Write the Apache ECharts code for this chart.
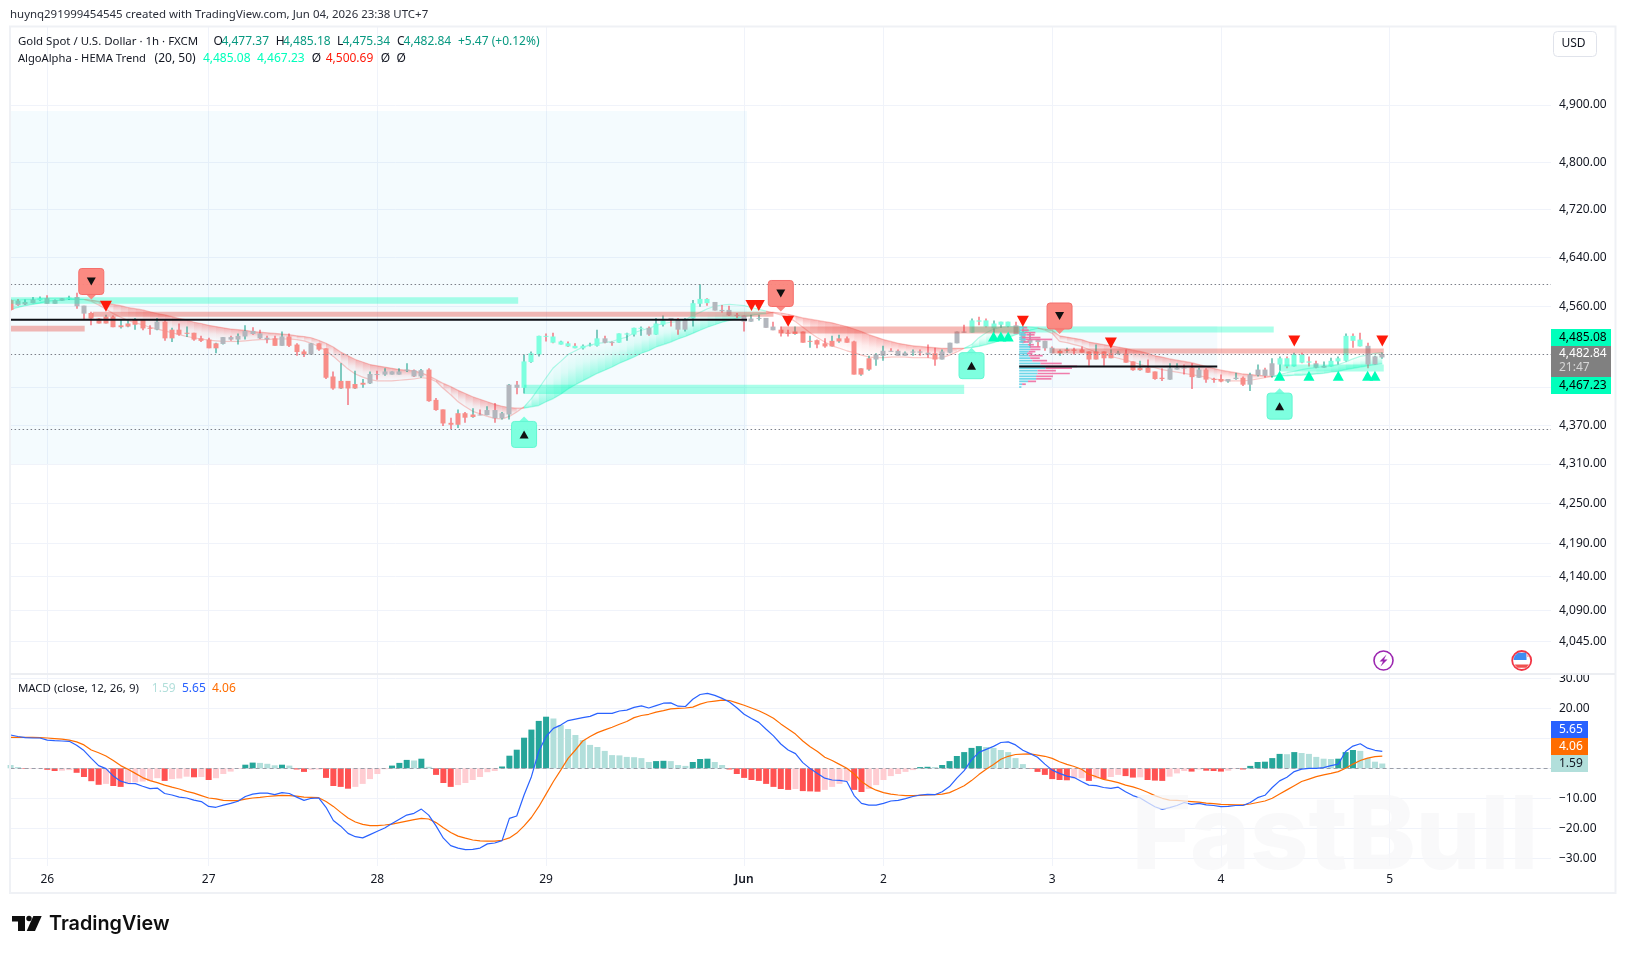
<!DOCTYPE html>
<html>
<head>
<meta charset="utf-8">
<title>Gold Spot / U.S. Dollar</title>
<script src="https://cdn.jsdelivr.net/npm/echarts@6/dist/echarts.min.js"></script>
<style>
html,body{margin:0;padding:0;background:#fff}
#chart{width:1626px;height:954px}
</style>
</head>
<body>
<div id="chart"></div>
<script>
// Hourly candles, indexed from the first visible bar
const opens = [
4570,4569,4563,4565,4570,4573,4564,4569,4572,4575,
4561,4549,4540,4532,4543,4526,4527,4530,4538,4525,
4522,4535,4508,4522,4516,4517,4508,4506,4492,4499,
4510,4506,4511,4520,4516,4509,4508,4496,4511,4498,
4487,4482,4500,4492,4447,4428,4440,4428,4434,4436,
4451,4450,4450,4450,4456,4457,4447,4458,4410,4395,
4374,4371,4389,4383,4387,4386,4394,4381,4387,4434,
4429,4470,4482,4512,4511,4498,4500,4496,4492,4497,
4496,4508,4502,4501,4514,4514,4524,4525,4514,4530,
4541,4538,4522,4540,4564,4572,4567,4554,4554,4546,
4545,4535,4540,4541,4527,4522,4517,4515,4519,4503,
4505,4500,4495,4503,4508,4503,4450,4458,4474,4480,
4488,4488,4480,4485,4487,4485,4484,4474,4485,4500,
4519,4517,4537,4537,4524,4530,4527,4529,4517,4501,
4506,4504,4493,4484,4488,4490,4490,4487,4474,4487,
4476,4483,4484,4471,4457,4461,4455,4445,4442,4458,
4461,4461,4445,4458,4443,4443,4439,4443,4445,4434,
4449,4458,4448,4466,4476,4463,4482,4471,4468,4461,
4463,4471,4472,4512,4506,4496,4466,4477.37];
const closes = [
4554,4562,4567,4571,4573,4564,4570,4573,4574,4560,
4548,4540,4532,4543,4526,4529,4532,4539,4524,4524,
4535,4508,4522,4514,4517,4506,4504,4492,4500,4510,
4506,4512,4520,4515,4508,4506,4496,4511,4496,4486,
4482,4500,4490,4445,4428,4440,4428,4435,4437,4451,
4450,4455,4455,4455,4458,4447,4457,4408,4394,4373,
4371,4389,4382,4387,4386,4394,4381,4389,4434,4429,
4471,4484,4512,4511,4501,4503,4495,4492,4496,4498,
4508,4501,4501,4516,4516,4525,4525,4514,4532,4537,
4538,4522,4538,4565,4572,4565,4553,4552,4545,4544,
4535,4540,4541,4525,4521,4516,4516,4519,4501,4504,
4498,4495,4504,4508,4501,4450,4460,4476,4482,4488,
4487,4480,4485,4487,4485,4482,4474,4487,4501,4519,
4517,4537,4535,4527,4532,4535,4535,4515,4501,4506,
4502,4492,4484,4488,4490,4488,4485,4474,4487,4476,
4484,4485,4469,4457,4461,4453,4443,4443,4460,4461,
4460,4446,4458,4442,4442,4439,4443,4445,4434,4450,
4458,4448,4468,4476,4463,4482,4469,4469,4461,4464,
4472,4476,4512,4504,4495,4466,4479,4482.84];
const lows = [
4553,4561,4562,4565,4569,4564,4564,4569,4570,4556,
4539,4529,4532,4532,4526,4524,4526,4522,4521,4514,
4521,4504,4502,4512,4510,4504,4502,4492,4484,4498,
4504,4498,4506,4514,4507,4500,4496,4496,4494,4480,
4478,4482,4488,4443,4426,4427,4402,4427,4429,4435,
4442,4448,4450,4450,4454,4446,4445,4407,4393,4369,
4364.5,4366,4374,4382,4386,4386,4374,4379,4379,4419,
4420,4469,4479,4503,4500,4498,4494,4492,4490,4495,
4495,4500,4496,4501,4504,4511,4512,4512,4514,4527,
4527,4514,4519,4527,4559,4561,4553,4550,4544,4541,
4519,4535,4537,4525,4521,4511,4511,4514,4501,4493,
4492,4493,4495,4501,4501,4450,4448,4456,4464,4472,
4487,4480,4480,4480,4480,4477,4464,4474,4484,4500,
4517,4517,4529,4526,4517,4525,4526,4515,4500,4493,
4494,4488,4484,4480,4485,4482,4485,4464,4474,4464,
4476,4482,4469,4456,4456,4453,4442,4440,4442,4458,
4450,4427,4445,4437,4437,4438,4437,4442,4432,4424,
4447,4445,4445,4456,4460,4463,4468,4463,4460,4461,
4463,4466,4471,4493,4495,4460,4466,4475.34];
const highs = [
4571,4572,4571,4575,4576,4578,4571,4573,4577,4582,
4561,4551,4541,4546,4545,4538,4537,4541,4538,4529,
4541,4538,4525,4532,4527,4517,4512,4509,4501,4510,
4512,4516,4529,4526,4522,4512,4512,4519,4516,4500,
4490,4500,4500,4492,4455,4468,4440,4456,4443,4455,
4456,4460,4455,4460,4468,4458,4459,4460,4413,4395,
4382,4395,4391,4397,4395,4400,4405,4391,4435,4440,
4482,4487,4512,4516,4517,4504,4503,4500,4498,4501,
4522,4512,4503,4516,4517,4525,4527,4527,4541,4545,
4541,4541,4541,4570,4596,4573,4567,4562,4561,4549,
4545,4546,4546,4541,4535,4527,4522,4527,4519,4512,
4506,4508,4512,4514,4511,4504,4460,4480,4484,4496,
4492,4490,4487,4490,4490,4498,4493,4490,4501,4519,
4530,4540,4543,4540,4537,4535,4535,4535,4527,4517,
4507,4504,4495,4490,4493,4493,4495,4487,4498,4487,
4490,4488,4490,4471,4472,4474,4455,4460,4468,4468,
4466,4468,4461,4460,4445,4450,4443,4453,4447,4453,
4466,4461,4476,4479,4479,4485,4485,4479,4472,4471,
4477,4479,4516,4516,4517,4501,4480,4485.18];
// Body tint per bar: s = bearish trend, m = bullish trend, g = undecided
const bodyTones = ('s ggg m ggg m gg sssssssss g ssssssss ggggggg s g sss g sssssss gggggggg ' +
  'sssssss gggggg mmmmmmmmmmm gg mmmm g mm ggg mmm ggggggggg sssssssssssss gggggggg s gggg ' +
  'mmmmmm gggggg ssssssss g ssssss ggg s g sss gg s gggg mmmmm gg mmmmm ggg').replace(/ /g, '').split('');

// HEMA Trend averages
const hemaFast = [
4570,4570,4571,4571,4572,4573,4573,4573,4573,4572,
4571,4568,4562,4555,4548,4542,4537,4533,4530,4526,
4523,4520,4517,4514,4511,4509,4507,4505,4504,4503,
4503,4503,4504,4505,4506,4506,4507,4507,4507,4506,
4504,4500,4495,4488,4479,4469,4459,4451,4446,4442,
4440,4440,4440,4441,4442,4443,4445,4444,4439,4428,
4418,4407,4399,4392,4388,4384,4381,4380,4384,4391,
4399,4412,4428,4445,4461,4471,4482,4488,4494,4497,
4500,4501,4503,4507,4510,4517,4521,4524,4529,4532,
4534,4535,4538,4545,4550,4556,4560,4562,4563,4562,
4561,4558,4555,4552,4549,4546,4542,4535,4526,4517,
4509,4502,4496,4492,4488,4485,4481,4478,4477,4477,
4478,4478,4478,4477,4477,4477,4476,4477,4481,4486,
4492,4498,4509,4517,4523,4526,4527,4527,4527,4526,
4525,4521,4516,4503,4501,4498,4495,4490,4486,4482,
4479,4476,4473,4470,4466,4463,4461,4458,4456,4454,
4452,4450,4448,4446,4443,4442,4440,4440,4440,4441,
4443,4445,4447,4450,4453,4455,4458,4460,4461,4463,
4464,4466,4470,4475,4479,4481,4484,4485.08];
const hemaSlow = [
4555,4558,4561,4563,4565,4568,4569,4570,4571,4571,
4571,4570,4568,4566,4563,4561,4558,4556,4554,4551,
4548,4546,4543,4540,4538,4534,4532,4529,4527,4525,
4523,4522,4521,4519,4518,4517,4516,4515,4514,4512,
4511,4509,4505,4500,4494,4486,4480,4474,4470,4466,
4464,4462,4460,4458,4457,4456,4453,4448,4442,4436,
4431,4425,4420,4415,4411,4407,4403,4400,4398,4397,
4397,4399,4401,4407,4412,4419,4427,4434,4440,4446,
4452,4457,4462,4468,4473,4478,4484,4488,4494,4498,
4502,4507,4511,4516,4521,4526,4530,4534,4537,4540,
4543,4545,4547,4548,4550,4549,4547,4544,4541,4539,
4537,4535,4533,4530,4527,4523,4519,4514,4510,4506,
4503,4500,4498,4496,4495,4494,4493,4492,4492,4492,
4492,4493,4495,4498,4501,4505,4509,4514,4517,4521,
4524,4523,4521,4512,4510,4508,4506,4502,4500,4498,
4496,4494,4492,4489,4487,4484,4480,4478,4475,4473,
4471,4469,4466,4463,4460,4457,4455,4453,4451,4450,
4449,4448,4447,4448,4448,4449,4449,4450,4451,4452,
4454,4455,4458,4460,4462,4464,4466,4467.23];

// MACD (close, 12, 26, 9)
const macdHist = [
1.1,.4,-.2,-.2,-.1,-.5,-.9,-.8,-.6,-1.5,
-2.9,-4.3,-5.5,-5.2,-5.9,-6.2,-5.3,-4.7,-4.4,-4.2,
-3.3,-4.2,-3.6,-3.4,-2.8,-3,-2.9,-3.9,-3.3,-1.9,
-1.1,-.2,1.2,1.9,1.8,1.5,1,1.2,.9,-.4,
-1.2,-.5,-.4,-3.2,-5.9,-6.2,-6.8,-6.2,-5.2,-3.6,
-1.9,-.3,.9,1.8,2.8,2.6,3.2,.5,-2.2,-4.9,
-6.2,-5.6,-4.9,-3.9,-2.9,-1.3,-.9,.6,4.2,6.2,
10.2,12.9,15.8,17.2,16.6,14.4,13.1,11.1,9.4,7.8,
7.1,5.8,4.4,4.3,3.8,3.7,3.4,2.1,2.4,2.5,
2.4,1.1,.8,2.1,3.1,3.2,2.1,1.1,-.4,-1.9,
-3.2,-3.9,-4.2,-5.2,-6.2,-6.9,-7.2,-6.9,-7.6,-7.7,
-7.8,-7.2,-6.2,-5.2,-4.2,-7.2,-7.9,-6.9,-5.6,-3.9,
-2.6,-1.9,-1.2,-.6,.4,.5,.4,1.1,2.4,4.1,
5.4,6.8,7.4,7.1,6.8,6.1,5.4,3.4,1.4,-.2,
-1.2,-2.2,-3.6,-3.9,-4,-3.4,-3.3,-4.2,-3.4,-3.6,
-2.9,-2.2,-2.6,-3.1,-3,-3.9,-4.1,-4.2,-2.8,-1.7,
-.9,-1.1,-.4,-.8,-.9,-1.1,-.8,-.2,-.4,.8,
2.1,2.2,3.4,4.8,4.7,5.4,5.1,4.8,3.8,3.2,
3.1,3.2,5.4,6.1,5.8,3.4,2.2,1.59];
const macdLine = [
11.1,10.6,10.2,10.1,10.1,9.4,9.2,9.1,9,7.7,
5.9,3.3,.9,-.1,-2.6,-4.3,-5,-5.1,-6,-6.8,
-6.6,-8.4,-8.9,-9.6,-9.9,-10.6,-11.1,-12.7,-13,-12.3,
-11.7,-11,-9.4,-8.6,-8.3,-8.3,-8.8,-8.1,-8.4,-9.6,
-10.7,-10,-9.9,-13,-17.4,-19.3,-21.7,-22.8,-23.2,-22.1,
-21,-19.9,-18.4,-17,-15.6,-15,-13.6,-15.6,-19.2,-23.3,
-25.8,-26.6,-27.1,-27,-26.6,-25.2,-24.9,-24.1,-16.7,-15.9,
-8.9,-2.8,5.6,10.6,13.3,14.4,15.9,16.4,16.9,17.3,
18.3,18.3,18.3,19.1,19.4,20.3,20.8,20.1,20.9,21.7,
21.8,20.7,20.6,23,24.6,25,24.3,23.3,22.1,20.2,
18,16.6,15.3,13,10.8,8.1,6.1,4.9,1.9,-.1,
-1.7,-3.3,-3.9,-4,-4.4,-9.1,-11.7,-12.3,-12.3,-11.7,
-10.9,-10.7,-10.1,-9.4,-8.9,-8.7,-8.8,-7.8,-6.1,-3.3,
-.8,2.8,5.3,6.3,7.3,8.6,8.8,7.8,6,4.9,
3.7,1.4,-.6,-1.7,-2.6,-3.1,-4.4,-5.6,-5.8,-6.4,
-6.7,-6.3,-7.8,-9.1,-9.9,-11.4,-12.8,-13.7,-13.1,-12.4,
-11.4,-12,-11.7,-12.2,-12.4,-12.8,-12.7,-12.4,-12.4,-11.4,
-9.8,-9,-6.4,-4.2,-3,-1.1,-.3,0,0,.2,
.9,1.4,5.6,7.4,8.2,6.7,6,5.65];
const signalLine = [
10.3,10.3,10.3,10.3,10.2,10.1,9.9,9.7,9.4,8.8,
7.8,6.1,5.2,4.1,2.6,.9,-.3,-1.7,-3.1,-4.1,
-4.8,-5.6,-6.3,-6.9,-7.7,-8.3,-9.1,-9.9,-10.2,-10.7,
-10.8,-10.8,-10.3,-9.9,-9.7,-9.4,-9.2,-9,-9.1,-9.3,
-9.6,-9.7,-9.8,-11.1,-12.7,-14.7,-16.6,-17.9,-18.7,-19.1,
-19.1,-18.9,-18.6,-18.1,-17.6,-17.1,-16.7,-16.9,-18.1,-19.8,
-21.4,-22.6,-23.3,-23.9,-24.2,-24.3,-24.3,-24,-23.2,-21.6,
-19.2,-16.4,-12.8,-8.6,-4.4,-.6,3.3,6.1,9.1,10.6,
11.9,12.8,13.7,14.7,15.6,16.9,17.6,18,18.7,19.2,
19.8,20,20.1,20.4,21.4,22.1,22.4,22.7,22.6,21.8,
21,20.1,19.2,18,16.7,14.8,13.1,11.4,9.1,7.2,
5.6,3.7,2.6,1.3,0,-1.9,-4.4,-6.1,-7.3,-8.1,
-8.6,-8.9,-9.1,-9.1,-9,-8.9,-8.8,-8.6,-8.1,-7,
-5.8,-4.1,-2.1,-.3,1.3,3,4,4.6,4.7,4.8,
4.4,4,3.3,2.2,1.3,.6,-.3,-2,-2.8,-3.7,
-4.2,-4.8,-5.6,-6.2,-7,-8,-9.1,-10,-10.6,-10.7,
-10.9,-11.1,-11.3,-11.6,-11.8,-12,-12.1,-12.2,-12.2,-11.9,
-11.4,-10.9,-10,-8.6,-7.2,-5.8,-4.4,-3.6,-2.8,-2.2,
-1.7,-1.1,0,1.4,2.6,3.4,3.9,4.06];

// Session ticks along the time scale
const dayTickIndex = [5, 27, 50, 73, 100, 119, 142, 165, 188];
const dayTickLabels = ['26', '27', '28', '29', 'Jun', '2', '3', '4', '5'];
const slotCount = 211;

// Axis ticks; 4,430 and 10 keep their grid line but sit under the value flags
const priceGrid = [4900, 4800, 4720, 4640, 4560, 4430, 4370, 4310, 4250, 4190, 4140, 4090, 4045];
const priceLabels = [4900, 4800, 4720, 4640, 4560, 4370, 4310, 4250, 4190, 4140, 4090, 4045];
const macdGrid = [30, 20, 10, 0, -10, -20, -30];
const macdLabels = [30, 20, -10, -20, -30];

// Reference levels drawn dotted: session high, last price, session low
const priceLevels = [4596, 4482.84, 4364.5];

// Fixed-range profile windows: from bar, to bar, top price, bottom price
const rangeFrom = [-0.1, 137.5];
const rangeTo = [100.4, 164.5];
const rangeTop = [4889.5, 4528];
const rangeBottom = [4310, 4430];
const pocPrice = [4538.2, 4463];

// Trend zones: from bar, to bar, top price, bottom price
const bullZoneFrom = [-0.1, 70, 131, 173];
const bullZoneTo = [69.2, 130, 172.2, 187.2];
const bullZoneTop = [4574.5, 4434, 4527, 4466];
const bullZoneBottom = [4564, 4419.4, 4517.3, 4455];
const bearZoneFrom = [-0.1, 11.2, 105, 142];
const bearZoneTo = [10.1, 104, 137.6, 187.2];
const bearZoneTop = [4528.5, 4551, 4527, 4491.6];
const bearZoneBottom = [4519, 4543, 4516, 4483.6];

// Volume profile rows: price, buy length and total length in bar steps
const profilePrice = [4525,4521,4517,4513.5,4509,4506,4502,4497.5,4494,4490,4486.5,4483.6,4480,4476,4472,4467.5,4463,4460,4456,4451.5,4447,4443,4439,4434.5,4430];
const profileBuy = [.6,.3,.7,1,.4,.9,.6,1.2,1.5,1.5,1.3,1.1,1.3,1.5,1.8,2.9,3.6,3.6,2.5,2.5,2.3,2.3,1.2,.4,.3];
const profileTotal = [1.1,1.3,2.2,2.1,2.9,4.5,1.3,2,2.9,2.9,2.2,1.8,3.2,2.8,3.8,5.8,7.9,7.2,5,6.9,4.6,4.4,2.3,.9,.3];

// Signals
const sellBars = [13, 101, 102, 106, 138, 150, 175, 187];
const sellPrices = [4560, 4561.4, 4561.4, 4535.7, 4535.7, 4500.4, 4503.6, 4503.6];
const buyBars = [134, 135, 136, 173, 177, 181, 185, 186];
const buyPrices = [4511, 4511, 4511, 4448, 4448, 4448, 4448, 4448];
const sellTagBars = [11, 105, 143];
const sellTagPrices = [4571, 4551.5, 4515];
const buyTagBars = [70, 131, 173];
const buyTagPrices = [4384, 4493, 4428.5];

// Header values
const quote = { o: '4,477.37', h: '4,485.18', l: '4,475.34', c: '4,482.84', change: '+5.47 (+0.12%)' };
const hemaLegend = { fast: '4,485.08', slow: '4,467.23', bear: '4,500.69' };
const macdLegend = { hist: '1.59', macd: '5.65', signal: '4.06' };

const UI_FONT = '"Noto Sans", sans-serif';
const INK = '#131722';
const GRID_LINE = '#f0f3fa';
const WICK_UP = '#089981', WICK_DOWN = '#f23645';
const BODY = { s: '#f88d88', m: '#7dffdf', g: '#b3b6bd' };
const MINT = '#00ffbb';

const plot = { left: 10.6, right: 1551, top: 27, bottom: 673, macdTop: 675, macdBottom: 866 };
const categories = Array.from({ length: slotCount }, (_, i) => {
  const k = dayTickIndex.indexOf(i);
  return k >= 0 ? dayTickLabels[k] : String(i);
});
const onDayTick = i => dayTickIndex.indexOf(i) >= 0;
const barsIndex = opens.map((_, i) => i);
const money = v => v.toLocaleString('en-US', { minimumFractionDigits: 2, maximumFractionDigits: 2 });

// Category coordinates are rounded by the scale, so fractional bars step from bar 0
function barX(api, bar, price) {
  const x0 = api.coord([0, price])[0];
  const x1 = api.coord([1, price])[0];
  return x0 + bar * (x1 - x0);
}

function rectSeries(name, from, to, top, bottom, fill, z) {
  return {
    name, type: 'custom', z, silent: true, clip: true, xAxisIndex: 0, yAxisIndex: 0,
    data: from.map((_, k) => [k]),
    encode: { x: [], y: [] },
    renderItem(_, api) {
      const k = api.value(0);
      const xa = barX(api, from[k], top[k]), xb = barX(api, to[k], top[k]);
      const ya = api.coord([0, top[k]])[1], yb = api.coord([0, bottom[k]])[1];
      return { type: 'rect', shape: { x: xa, y: ya, width: xb - xa, height: yb - ya }, style: { fill } };
    }
  };
}

function renderCandle(_, api) {
  const i = api.value(0);
  const o = opens[i], c = closes[i];
  const x = Math.round(api.coord([i, c])[0]);
  const yHigh = api.coord([i, highs[i]])[1], yLow = api.coord([i, lows[i]])[1];
  const yTop = api.coord([i, Math.max(o, c)])[1], yBot = api.coord([i, Math.min(o, c)])[1];
  return {
    type: 'group',
    children: [
      { type: 'rect', shape: { x: x - 0.5, y: yHigh, width: 1, height: yLow - yHigh },
        style: { fill: c >= o ? WICK_UP : WICK_DOWN } },
      { type: 'rect', shape: { x: x - 2.5, y: yTop, width: 5, height: Math.max(1, yBot - yTop) },
        style: { fill: BODY[bodyTones[i]] } }
    ]
  };
}

function renderHemaColumn(_, api) {
  const i = api.value(0);
  if (i >= hemaFast.length - 1) return null;
  const bear = hemaFast[i] < hemaSlow[i] || hemaFast[i + 1] < hemaSlow[i + 1];
  const pt = (bar, p) => api.coord([bar, p]);
  const f0 = pt(i, hemaFast[i]), f1 = pt(i + 1, hemaFast[i + 1]);
  const s0 = pt(i, hemaSlow[i]), s1 = pt(i + 1, hemaSlow[i + 1]);
  const rgb = bear ? '242,70,70' : '0,250,185';
  const strong = `rgba(${rgb},0.42)`, mid = `rgba(${rgb},0.1)`, none = `rgba(${rgb},0)`;
  const fill = new echarts.graphic.LinearGradient(0, 0, 0, 1, bear
    ? [{ offset: 0, color: strong }, { offset: 0.55, color: mid }, { offset: 1, color: none }]
    : [{ offset: 0, color: none }, { offset: 0.45, color: mid }, { offset: 1, color: strong }]);
  const edge = bear ? 'rgba(240,100,95,0.36)' : 'rgba(0,240,175,0.3)';
  return {
    type: 'group',
    children: [
      { type: 'polygon', shape: { points: [s0, s1, f1, f0] }, style: { fill } },
      { type: 'line', shape: { x1: f0[0], y1: f0[1], x2: f1[0], y2: f1[1] }, style: { stroke: edge, lineWidth: 1.2 } },
      { type: 'line', shape: { x1: s0[0], y1: s0[1], x2: s1[0], y2: s1[1] }, style: { stroke: edge, lineWidth: 1.2 } }
    ]
  };
}

function renderPoc(_, api) {
  const k = api.value(0);
  const xa = barX(api, rangeFrom[k], pocPrice[k]), xb = barX(api, rangeTo[k], pocPrice[k]);
  const y = api.coord([0, pocPrice[k]])[1];
  return { type: 'rect', shape: { x: xa, y: y - 1, width: xb - xa, height: 2 }, style: { fill: '#0c0e14' } };
}

function renderProfileRow(_, api) {
  const k = api.value(0);
  const start = rangeFrom[1];
  const y = api.coord([0, profilePrice[k]])[1];
  const xa = barX(api, start, profilePrice[k]);
  const xb = barX(api, start + profileBuy[k], profilePrice[k]);
  const xc = barX(api, start + profileTotal[k], profilePrice[k]);
  return {
    type: 'group',
    children: [
      { type: 'rect', shape: { x: xa, y: y - 1, width: xb - xa, height: 1.7 }, style: { fill: '#5fd1e6', opacity: 0.9 } },
      { type: 'rect', shape: { x: xb, y: y - 1, width: Math.max(0, xc - xb), height: 1.7 }, style: { fill: '#ef6ea2', opacity: 0.9 } }
    ]
  };
}

function tagSeries(name, bars, prices, down) {
  const fill = down ? 'rgba(251,134,126,0.97)' : 'rgba(122,255,222,0.97)';
  const line = down ? '#f56f6c' : '#62f7d2';
  return {
    name, type: 'custom', z: 12, silent: true, clip: false, xAxisIndex: 0, yAxisIndex: 0,
    data: bars.map((_, k) => [k]),
    encode: { x: [], y: [] },
    renderItem(_, api) {
      const k = api.value(0);
      const [x, tip] = api.coord([bars[k], prices[k]]);
      const dir = down ? -1 : 1;
      const near = tip + dir * 5;
      const far = near + dir * 26;
      const mid = (near + far) / 2;
      return {
        type: 'group',
        children: [
          { type: 'polygon', shape: { points: [[x - 6, near + dir], [x, tip], [x + 6, near + dir]] }, style: { fill } },
          { type: 'rect', shape: { x: x - 12.5, y: Math.min(near, far), width: 25, height: 26, r: 3 },
            style: { fill, stroke: line, lineWidth: 1 } },
          { type: 'polygon', shape: { points: [[x - 4.5, mid + dir * 4], [x + 4.5, mid + dir * 4], [x, mid - dir * 4]] },
            style: { fill: '#111' } }
        ]
      };
    }
  };
}

function label(x, y, text, fill, extra) {
  return {
    type: 'text', x, y, z: 30, silent: true,
    style: Object.assign({ text, fill, font: `12px ${UI_FONT}`, verticalAlign: 'middle' }, extra || {})
  };
}
function box(x, y, w, h, fill, extra) {
  return { type: 'rect', z: 28, silent: true, shape: Object.assign({ x, y, width: w, height: h }, extra || {}), style: { fill } };
}
function poly(points, fill) {
  return { type: 'polygon', z: 31, silent: true, shape: { points }, style: { fill } };
}

const TEAL = '#089981';
const NARROW = { font: `11.45px ${UI_FONT}` };
const graphicItems = [
  // frame and pane separator
  { type: 'rect', z: 20, silent: true, shape: { x: 10, y: 26.5, width: 1605.5, height: 866.5 }, style: { fill: 'none', stroke: '#eff1f5', lineWidth: 2 } },
  box(10, 673, 1605, 2, '#eceef2'),
  // caption
  label(10, 15, 'huynq291999454545 created with TradingView.com, Jun 04, 2026 23:38 UTC+7', '#2a2e39', NARROW),
  // main legend
  label(17.9, 41.5, 'Gold Spot / U.S. Dollar · 1h · FXCM', INK, NARROW),
  label(213.5, 41.5, 'O', INK), label(221.4, 41.5, quote.o, TEAL),
  label(275.7, 41.5, 'H', INK), label(283, 41.5, quote.h, TEAL),
  label(337, 41.5, 'L', INK), label(342.5, 41.5, quote.l, TEAL),
  label(397, 41.5, 'C', INK), label(403.6, 41.5, quote.c, TEAL),
  label(457.9, 41.5, quote.change, TEAL),
  label(17.9, 59, 'AlgoAlpha - HEMA Trend', INK, { font: `11.2px ${UI_FONT}` }),
  label(154.6, 59, '(20, 50)', INK),
  label(202.9, 59, hemaLegend.fast, MINT), label(257, 59, hemaLegend.slow, MINT),
  label(311.8, 59, 'Ø', INK), label(325.7, 59, hemaLegend.bear, '#ff1a0a'),
  label(380.7, 59, 'Ø', INK), label(396.4, 59, 'Ø', INK),
  // MACD legend
  label(17.9, 689, 'MACD (close, 12, 26, 9)', INK, NARROW),
  label(151.8, 689, macdLegend.hist, '#b2dfdb'),
  label(182, 689, macdLegend.macd, '#2962ff'),
  label(212, 689, macdLegend.signal, '#ff6d00'),
  // currency button
  { type: 'rect', z: 28, silent: true, shape: { x: 1553.5, y: 31.5, width: 43, height: 25, r: 4 }, style: { fill: '#fff', stroke: '#e0e3eb', lineWidth: 1 } },
  label(1573.5, 44, 'USD', INK, { align: 'center' }),
  // price flags
  box(1551, 329, 60, 17, MINT), label(1559, 337.5, hemaLegend.fast, '#000'),
  box(1551, 346, 60, 31, '#808080'), label(1559, 354, quote.c, '#fff'), label(1559, 368, '21:47', '#d6d6d6'),
  box(1551, 377, 60, 17, MINT), label(1559, 385.5, hemaLegend.slow, '#000'),
  // MACD flags
  box(1551, 721, 37, 17, '#2962ff'), label(1559, 729.5, macdLegend.macd, '#fff'),
  box(1551, 738, 37, 17, '#ff6d00'), label(1559, 746.5, macdLegend.signal, '#fff'),
  box(1551, 755, 37, 17, '#b2dfdb'), label(1559, 763.5, macdLegend.hist, '#131722'),
  // event badges on the time scale
  { type: 'circle', z: 30, silent: true, shape: { cx: 1383.5, cy: 660.5, r: 9.5 }, style: { fill: '#fff', stroke: '#9c27b0', lineWidth: 1.6 } },
  poly([[1386.5, 654.5], [1379.5, 661.5], [1383, 661.5], [1380.5, 666.5], [1387.5, 659.5], [1384, 659.5]], '#9c27b0'),
  { type: 'circle', z: 30, silent: true, shape: { cx: 1521.7, cy: 660.5, r: 9.5 }, style: { fill: '#fff', stroke: '#f23645', lineWidth: 1.8 } },
  poly([[1514.5, 656], [1518, 652.7], [1526.5, 652.7], [1526.5, 660], [1513.6, 660]], '#3f8df2'),
  poly([[1526.5, 653], [1528, 655], [1529, 657], [1526.5, 657]], '#f9b9b7'),
  poly([[1514.5, 664.5], [1528.9, 664.5], [1526, 667.8], [1517.4, 667.8]], '#f0514f'),
  // watermark
  {
    type: 'text', x: 1335, y: 838, z: 40, silent: true,
    style: {
      text: 'FastBull', fill: 'rgba(246,247,248,0.72)', font: `800 102px Inter, ${UI_FONT}`,
      align: 'center', verticalAlign: 'middle', shadowColor: 'rgba(0,0,0,0.09)', shadowBlur: 9, shadowOffsetY: 3
    }
  },
  // TradingView mark
  poly([[12, 916], [25, 916], [25, 931], [18, 931], [18, 921.5], [12, 921.5]], '#0f0f0f'),
  { type: 'circle', z: 30, silent: true, shape: { cx: 29, cy: 918.5, r: 2.7 }, style: { fill: '#0f0f0f' } },
  poly([[33.3, 916], [41.7, 916], [35, 931], [26.7, 931]], '#0f0f0f'),
  label(49, 924, 'TradingView', '#0f0f0f', { font: '600 19.8px Inter, sans-serif' })
];

const sharedSplit = { show: true, interval: i => onDayTick(i), lineStyle: { color: GRID_LINE, width: 1 } };

const option = {
  animation: false,
  backgroundColor: '#ffffff',
  textStyle: { fontFamily: UI_FONT },
  graphic: { elements: graphicItems },
  grid: [
    { left: plot.left, top: plot.top, width: plot.right - plot.left, height: plot.bottom - plot.top, containLabel: false },
    { left: plot.left, top: plot.macdTop, width: plot.right - plot.left, height: plot.macdBottom - plot.macdTop, containLabel: false }
  ],
  xAxis: [
    { type: 'category', gridIndex: 0, data: categories, boundaryGap: false,
      axisLine: { show: false }, axisTick: { show: false }, axisLabel: { show: false }, splitLine: sharedSplit },
    { type: 'category', gridIndex: 1, data: categories, boundaryGap: false,
      axisLine: { show: false }, axisTick: { show: false }, splitLine: sharedSplit,
      axisLabel: {
        interval: i => onDayTick(i), margin: 8, color: INK, fontSize: 12, fontFamily: UI_FONT,
        hideOverlap: false,
        formatter: v => v === 'Jun' ? '{b|Jun}' : v,
        rich: { b: { fontWeight: 600, fontSize: 12, color: INK, fontFamily: UI_FONT } }
      } }
  ],
  yAxis: [
    { type: 'log', logBase: 10, gridIndex: 0, position: 'right', min: 4000, max: 5038.4,
      axisLine: { show: false },
      axisTick: { show: false, customValues: priceGrid },
      splitLine: { show: true, lineStyle: { color: GRID_LINE, width: 1 } },
      axisLabel: { customValues: priceLabels, margin: 8, color: INK, fontSize: 12, fontFamily: UI_FONT,
        align: 'left', padding: [0, 0, 2, 0], formatter: v => money(v) } },
    { type: 'value', gridIndex: 1, position: 'right', min: -32.57, max: 31.1,
      axisLine: { show: false },
      axisTick: { show: false, customValues: macdGrid },
      splitLine: { show: true, lineStyle: { color: GRID_LINE, width: 1 } },
      axisLabel: { customValues: macdLabels, margin: 8, color: INK, fontSize: 12, fontFamily: UI_FONT,
        align: 'left', formatter: v => (v < 0 ? '\u2212' : '') + Math.abs(v).toFixed(2) } }
  ],
  series: [
    Object.assign(rectSeries('Range windows', rangeFrom, rangeTo, rangeTop, rangeBottom, 'rgba(33,180,240,0.05)', 1), {
      markLine: {
        silent: true, symbol: 'none', label: { show: false }, animation: false,
        lineStyle: { color: '#7b7e88', type: [1.5, 2.5], width: 1.2 },
        data: priceLevels.map(v => ({ yAxis: v }))
      }
    }),
    {
      name: 'HEMA band', type: 'custom', z: 2, silent: true, clip: true, xAxisIndex: 0, yAxisIndex: 0,
      data: barsIndex.map(i => [i]), encode: { x: 0, y: [] }, renderItem: renderHemaColumn
    },
    {
      name: 'Candles', type: 'custom', z: 3, silent: true, clip: true, xAxisIndex: 0, yAxisIndex: 0,
      data: barsIndex.map(i => [i]), encode: { x: 0, y: [] }, renderItem: renderCandle
    },
    rectSeries('Bull zones', bullZoneFrom, bullZoneTo, bullZoneTop, bullZoneBottom, 'rgba(0,255,187,0.33)', 4),
    rectSeries('Bear zones', bearZoneFrom, bearZoneTo, bearZoneTop, bearZoneBottom, 'rgba(230,60,50,0.36)', 4),
    {
      name: 'Profile', type: 'custom', z: 5, silent: true, clip: true, xAxisIndex: 0, yAxisIndex: 0,
      data: profilePrice.map((_, k) => [k]), encode: { x: [], y: [] }, renderItem: renderProfileRow
    },
    {
      name: 'Point of control', type: 'custom', z: 6, silent: true, clip: true, xAxisIndex: 0, yAxisIndex: 0,
      data: pocPrice.map((_, k) => [k]), encode: { x: [], y: [] }, renderItem: renderPoc
    },
    {
      name: 'Sell', type: 'scatter', z: 10, silent: true, xAxisIndex: 0, yAxisIndex: 0,
      symbol: 'triangle', symbolRotate: 180, symbolSize: [12, 11], itemStyle: { color: '#ff1a0a', opacity: 1 },
      data: sellBars.map((b, k) => [b, sellPrices[k]])
    },
    {
      name: 'Buy', type: 'scatter', z: 10, silent: true, xAxisIndex: 0, yAxisIndex: 0,
      symbol: 'triangle', symbolSize: [11, 10], itemStyle: { color: '#00ffb8', opacity: 1 },
      data: buyBars.map((b, k) => [b, buyPrices[k]])
    },
    tagSeries('Sell tag', sellTagBars, sellTagPrices, true),
    tagSeries('Buy tag', buyTagBars, buyTagPrices, false),
    {
      name: 'Histogram', type: 'bar', xAxisIndex: 1, yAxisIndex: 1, barWidth: 6, z: 2, silent: true,
      data: macdHist.map((v, i) => {
        const prev = i ? macdHist[i - 1] : v;
        const color = v >= 0 ? (v > prev ? '#26a69a' : '#b2dfdb') : (v < prev ? '#ff5252' : '#ffcdd2');
        return { value: v, itemStyle: { color } };
      }),
      markLine: {
        silent: true, symbol: 'none', label: { show: false }, animation: false, z: 3,
        lineStyle: { color: '#9a9ea8', type: [4, 3], width: 1 },
        data: [{ yAxis: 0 }]
      }
    },
    {
      name: 'Signal', type: 'line', xAxisIndex: 1, yAxisIndex: 1, z: 4, silent: true, showSymbol: false,
      data: signalLine, lineStyle: { color: '#ff6d00', width: 1.2 }
    },
    {
      name: 'MACD', type: 'line', xAxisIndex: 1, yAxisIndex: 1, z: 5, silent: true, showSymbol: false,
      data: macdLine, lineStyle: { color: '#2962ff', width: 1.2 }
    }
  ]
};

const chart = echarts.init(document.getElementById('chart'), null, { width: 1626, height: 954 });
chart.setOption(option);
</script>
</body>
</html>
